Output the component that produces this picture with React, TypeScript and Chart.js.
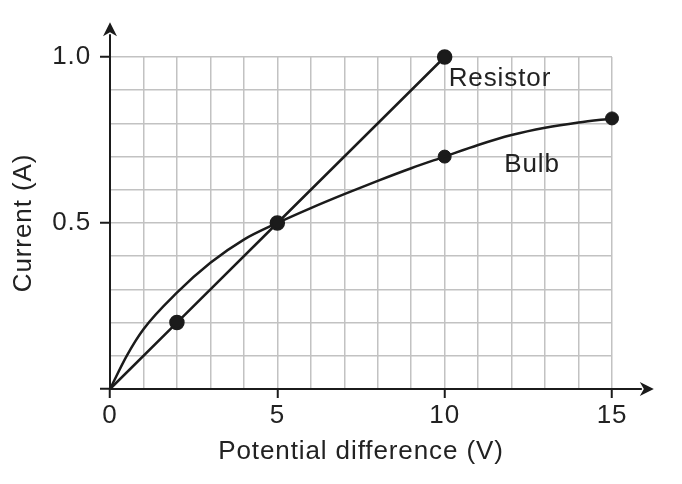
import React, { useEffect, useRef } from "react";
import { Chart, registerables } from "chart.js";

Chart.register(...registerables);

// ---- data ----
const resistorV = [0, 2, 5, 10];
const resistorI = [0, 0.2, 0.5, 1.0];

const bulbCurveV = [0, 0.5, 1, 2, 3, 4, 5, 6, 7, 8, 9, 10, 11, 12, 13, 14, 15];
const bulbCurveI = [0, 0.1, 0.18, 0.29, 0.38, 0.45, 0.5, 0.545, 0.587, 0.627, 0.665, 0.7, 0.735, 0.765, 0.787, 0.803, 0.815];

const bulbPointV = [5, 10, 15];
const bulbPointI = [0.5, 0.7, 0.815];

const xTickValues = [0, 5, 10, 15];
const xTickLabels = ["0", "5", "10", "15"];
const yTickValues = [0.5, 1.0];
const yTickLabels = ["0.5", "1.0"];

const seriesNames = ["Resistor", "Bulb"];
const seriesLabelV = [10.12, 11.78];
const seriesLabelI = [0.912, 0.655];

const xTitle = "Potential difference (V)";
const yTitle = "Current (A)";

const INK = "#1b1b1b";
const TEXT = "#222222";
const GRID = "#c2c2c2";
const FONT = '"Liberation Sans", Arial, sans-serif';
const FS = 26;

const near = (a: number, b: number) => Math.abs(a - b) < 1e-6;

const spacingPlugin = {
  id: "spacing",
  beforeDraw(chart: any) {
    (chart.ctx as any).letterSpacing = "0.9px";
  },
  afterDraw(chart: any) {
    (chart.ctx as any).letterSpacing = "0px";
  },
};

const axesPlugin = {
  id: "axesArrows",
  beforeDatasetsDraw(chart: any) {
    const { ctx, scales } = chart;
    const xs = scales.x;
    const ys = scales.y;
    const x0 = xs.getPixelForValue(0);
    const y0 = ys.getPixelForValue(0);
    const xEnd = xs.getPixelForValue(16.25);
    const yEnd = ys.getPixelForValue(1.105);
    const head = 14;
    const half = 7;
    ctx.save();
    ctx.strokeStyle = INK;
    ctx.fillStyle = INK;
    ctx.lineWidth = 2;
    ctx.beginPath();
    ctx.moveTo(x0, y0);
    ctx.lineTo(xEnd - head + 2, y0);
    ctx.moveTo(x0, y0);
    ctx.lineTo(x0, yEnd + head - 2);
    ctx.stroke();
    ctx.beginPath();
    ctx.moveTo(xEnd, y0);
    ctx.lineTo(xEnd - head, y0 - half);
    ctx.lineTo(xEnd - head + 4, y0);
    ctx.lineTo(xEnd - head, y0 + half);
    ctx.closePath();
    ctx.fill();
    ctx.beginPath();
    ctx.moveTo(x0, yEnd);
    ctx.lineTo(x0 - half, yEnd + head);
    ctx.lineTo(x0, yEnd + head - 4);
    ctx.lineTo(x0 + half, yEnd + head);
    ctx.closePath();
    ctx.fill();
    ctx.restore();
  },
  afterDatasetsDraw(chart: any) {
    const { ctx, scales } = chart;
    ctx.save();
    ctx.font = `${FS}px ${FONT}`;
    ctx.fillStyle = TEXT;
    ctx.textAlign = "left";
    ctx.textBaseline = "alphabetic";
    seriesNames.forEach((name, i) => {
      ctx.fillText(
        name,
        scales.x.getPixelForValue(seriesLabelV[i]),
        scales.y.getPixelForValue(seriesLabelI[i])
      );
    });
    ctx.restore();
  },
};

export default function App() {
  const ref = useRef<HTMLCanvasElement | null>(null);

  useEffect(() => {
    if (!ref.current) return;
    const toXY = (xs: number[], ys: number[]) => xs.map((x, i) => ({ x, y: ys[i] }));
    const chart = new Chart(ref.current, {
      type: "scatter",
      data: {
        datasets: [
          {
            label: seriesNames[0],
            data: toXY(resistorV, resistorI),
            showLine: true,
            borderColor: INK,
            backgroundColor: INK,
            borderWidth: 2.5,
            pointRadius: (c: any) => (c.dataIndex === 0 ? 0 : 6.5),
            pointHoverRadius: 0,
            clip: false,
          } as any,
          {
            label: seriesNames[1],
            data: toXY(bulbCurveV, bulbCurveI),
            showLine: true,
            borderColor: INK,
            borderWidth: 2.5,
            pointRadius: 0,
            cubicInterpolationMode: "monotone",
            clip: false,
          } as any,
          {
            label: seriesNames[1] + " points",
            data: toXY(bulbPointV, bulbPointI),
            showLine: false,
            borderColor: INK,
            backgroundColor: INK,
            pointRadius: 6.5,
            clip: false,
          } as any,
        ],
      },
      options: {
        animation: false,
        responsive: false,
        events: [],
        layout: { padding: { top: 57, right: 70, left: 0, bottom: 0 } },
        plugins: { legend: { display: false }, tooltip: { enabled: false } },
        scales: {
          x: {
            type: "linear",
            min: 0,
            max: 15,
            afterFit: (s: any) => {
              s.height = 95;
            },
            border: { display: false },
            grid: {
              color: GRID,
              lineWidth: 1.5,
              drawTicks: true,
              tickLength: 9,
              tickWidth: 2,
              tickColor: (c: any) =>
                xTickValues.some((v) => near(v, c.tick?.value)) ? INK : "rgba(0,0,0,0)",
            },
            ticks: {
              stepSize: 1,
              autoSkip: false,
              maxRotation: 0,
              padding: 2,
              color: TEXT,
              font: { family: FONT, size: FS },
              callback: (v: any) => {
                const i = xTickValues.findIndex((t) => near(t, Number(v)));
                return i >= 0 ? xTickLabels[i] : "";
              },
            },
            title: {
              display: true,
              text: xTitle,
              color: TEXT,
              font: { family: FONT, size: FS },
              padding: { top: 0, bottom: 17 },
            },
          },
          y: {
            type: "linear",
            min: 0,
            max: 1,
            afterFit: (s: any) => {
              s.width = 110;
            },
            border: { display: false },
            grid: {
              color: GRID,
              lineWidth: 1.5,
              drawTicks: true,
              tickLength: 10,
              tickWidth: 2,
              tickColor: (c: any) => {
                const v = c.tick?.value;
                return near(v, 0) || yTickValues.some((t) => near(t, v)) ? INK : "rgba(0,0,0,0)";
              },
            },
            ticks: {
              stepSize: 0.1,
              autoSkip: false,
              padding: 9,
              color: TEXT,
              font: { family: FONT, size: FS },
              callback: (v: any) => {
                const i = yTickValues.findIndex((t) => near(t, Number(v)));
                return i >= 0 ? yTickLabels[i] : "";
              },
            },
            title: {
              display: true,
              text: yTitle,
              color: TEXT,
              font: { family: FONT, size: FS },
              padding: { top: 8, bottom: 0 },
            },
          },
        },
      },
      plugins: [spacingPlugin, axesPlugin],
    } as any);
    return () => chart.destroy();
  }, []);

  return (
    <div style={{ position: "absolute", left: 0, top: 0, width: 682, height: 484, background: "#fff" }}>
      <canvas ref={ref} width={682} height={484} />
    </div>
  );
}
